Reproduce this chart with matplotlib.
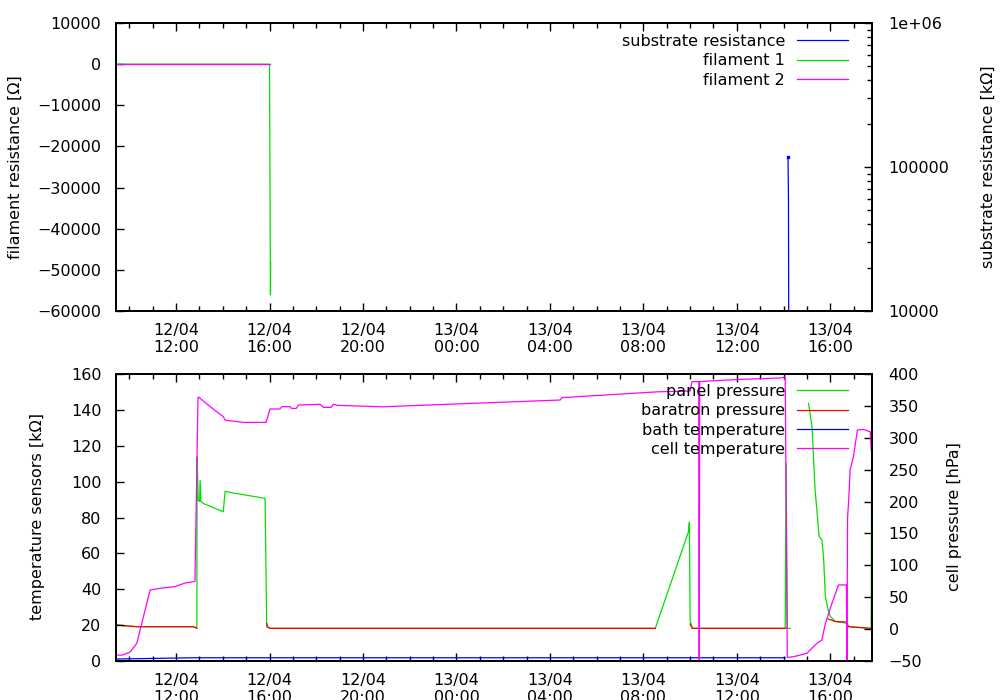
import matplotlib
matplotlib.use("Agg")
import matplotlib.pyplot as plt
from matplotlib.ticker import MultipleLocator, FixedLocator, FuncFormatter, LogLocator, NullFormatter

plt.rcParams['font.family'] = ['DejaVu Sans']
plt.rcParams['font.size'] = 11.5
plt.rcParams['axes.unicode_minus'] = True

nan = float('nan')

# time in hours since 12/04 00:00
X_MIN, X_MAX = 9.43, 41.785

# --- top panel: resistances ---
fil1_t = [9.43, 16.00, 16.04, 16.05]
fil1_v = [0, 0, -56100, -48300]
fil2_t = [9.43, 16.03]
fil2_v = [0, 0]
subst_t = [38.19, 38.21, 38.22]
subst_v = [117000, 60000, 9800]

# --- bottom panel: pressures [hPa] ---
panel_t = [9.43, 10.32, 12.74, 12.89, 12.90, 12.95, 13.01, 13.03, 13.07, 13.17, 14.02, 14.10, 14.45,
           15.81, 15.88, 16.02, 32.51, 33.93, 33.97, 34.00, 34.09, 38.07, 38.11, 38.16, 38.28, 38.29,
           39.07, 39.22, 39.28, 39.35, 39.43, 39.52, 39.64, 39.71, 39.79, 39.91, 40.00, 40.21, 40.69,
           40.78, 41.71, 41.75, 41.77]
panel_v = [6.4, 3.8, 3.8, 1.2, 270, 202, 200, 233, 200, 197, 184, 216, 213.5,
           205, 3.8, 1.2, 1.2, 152.7, 167.5, 14.5, 1.2, 1.2, 260, 1.2, 1.2, nan,
           354, 317, 270, 218, 185, 145, 140, 114, 51, 30, 20, 12, 9.4,
           4, 1.2, 1.2, 300]
baratron_t = [9.43, 10.32, 12.74, 12.89, 12.90, 15.88, 15.93, 16.02, 32.51, 32.52, 34.00, 34.09,
              38.11, 38.12, 39.91, 40.21, 40.69, 40.78, 41.71, 41.785]
baratron_v = [6.4, 3.8, 3.8, 1.5, nan, 8.9, 3, 1.2, 1.2, nan, 8, 1.2,
              1.2, nan, 16, 12, 11, 3.8, 1.2, 1.2]

# --- bottom panel: temperature sensors [kOhm] ---
bath_t = [9.43, 12.73, 38.07]
bath_v = [1.1, 1.8, 1.8]
cell_t = [9.43, 9.69, 10.03, 10.32, 10.89, 11.32, 11.96, 12.39, 12.74, 12.81, 12.94, 12.98, 13.46,
          14.02, 14.10, 14.88, 15.84, 15.90, 16.02, 16.45, 16.52, 16.88, 16.95, 17.14, 17.24, 18.16,
          18.31, 18.64, 18.73, 18.93, 20.87, 21.59, 28.44, 28.51, 32.65, 34.00, 34.08, 34.37, 34.39,
          34.41, 36.14, 37.86, 38.07, 38.16, 38.43, 39.00, 39.43, 39.64, 39.79, 40.07, 40.35, 40.69,
          40.71, 40.74, 40.78, 40.85, 40.99, 41.16, 41.42, 41.71, 41.75]
cell_v = [3.3, 3.3, 5, 9.9, 39.6, 40.5, 41.5, 43.5, 44.2, 44.5, 147, 147, 141.8,
          136.2, 134.3, 133, 133, 135, 140.5, 140.5, 141.8, 141.8, 140.8, 140.8, 142.7, 143.1,
          141.4, 141.4, 143.1, 142.5, 141.7, 142.1, 145.5, 146.8, 150.1, 150.5, 155.7, 155.8, -5,
          155.8, 157, 157.8, 158.2, 2.0, 2.4, 4.3, 9.9, 11.7, 21, 32.1, 42.4, 42.4,
          -5, 80, 87.9, 106.5, 113.9, 128.8, 129.1, 127.8, 117.6]

GREEN, RED, BLUE, MAGENTA = '#00e000', '#ff0000', '#0000ff', '#ff00ff'
LW = 0.9


def time_label(h, pos):
    h = int(round(h))
    return "%02d/04\n%02d:00" % (12 + h // 24, h % 24)


def style_x(ax):
    ax.set_xlim(X_MIN, X_MAX)
    ax.xaxis.set_major_locator(MultipleLocator(4))
    ax.xaxis.set_minor_locator(MultipleLocator(1))
    ax.xaxis.set_major_formatter(FuncFormatter(time_label))
    ax.tick_params(axis='x', which='both', direction='in', top=True, bottom=True)
    ax.tick_params(axis='x', which='major', length=6, width=1, pad=8.5)
    ax.tick_params(axis='x', which='minor', length=3.5, width=1)


def make_legend(ax, handles, labels, top_px):
    leg = ax.legend(handles, labels, loc='upper right', frameon=False, markerfirst=False,
                    bbox_to_anchor=(1 - 24 / 756, 1 - top_px / 288), borderaxespad=0, borderpad=0,
                    handlelength=3.2, handletextpad=0.75, labelspacing=0.27)
    for col in leg._legend_handle_box.get_children():
        col.align = 'right'
    return leg


fig = plt.figure(figsize=(10, 7), dpi=100)

# ---------------- top panel ----------------
ax_r = fig.add_axes([0.116, 1 - 311 / 700, 0.756, 288 / 700])
ax_f = ax_r.twinx()
for a in (ax_r, ax_f):
    for s in a.spines.values():
        s.set_linewidth(1.3)

l_sub, = ax_r.plot(subst_t, subst_v, color=BLUE, lw=LW)
ax_r.plot(subst_t[:1], subst_v[:1], 's', color=BLUE, ms=2)
ax_r.set_yscale('log')
ax_r.set_ylim(1e4, 1e6)
ax_r.yaxis.tick_right()
ax_r.yaxis.set_label_position('right')
ax_r.yaxis.set_major_locator(FixedLocator([1e4, 1e5, 1e6]))
ax_r.yaxis.set_major_formatter(FuncFormatter(lambda v, p: {1e4: '10000', 1e5: '100000', 1e6: '1e+06'}.get(v, '')))
ax_r.yaxis.set_minor_locator(LogLocator(base=10, subs=range(2, 10)))
ax_r.yaxis.set_minor_formatter(NullFormatter())
ax_r.tick_params(axis='y', which='both', direction='in', left=False, right=True, labelleft=False, labelright=True)
ax_r.tick_params(axis='y', which='major', length=6, width=1, pad=12)
ax_r.tick_params(axis='y', which='minor', length=3.5, width=1)
style_x(ax_r)

l_f1, = ax_f.plot(fil1_t, fil1_v, color=GREEN, lw=LW)
l_f2, = ax_f.plot(fil2_t, fil2_v, color=MAGENTA, lw=LW)
ax_f.set_ylim(-60000, 10000)
ax_f.yaxis.tick_left()
ax_f.yaxis.set_label_position('left')
ax_f.yaxis.set_major_locator(MultipleLocator(10000))
ax_f.tick_params(axis='y', which='both', direction='in', left=True, right=False, labelleft=True, labelright=False,
                 length=6, width=1, pad=10.5)
ax_f.set_xlim(X_MIN, X_MAX)

make_legend(ax_f, [l_sub, l_f1, l_f2], ['substrate resistance', 'filament 1', 'filament 2'], 11)

fig.text(0.015, 1 - 167 / 700, 'filament resistance [\u03a9]', rotation=90, ha='center', va='center')
fig.text(0.988, 1 - 167 / 700, 'substrate resistance [k\u03a9]', rotation=90, ha='center', va='center')

# ---------------- bottom panel ----------------
ax_p = fig.add_axes([0.116, 1 - 661 / 700, 0.756, 287 / 700])
ax_t = ax_p.twinx()
for a in (ax_p, ax_t):
    for s in a.spines.values():
        s.set_linewidth(1.3)

l_pan, = ax_p.plot(panel_t, panel_v, color=GREEN, lw=LW)
l_bar, = ax_p.plot(baratron_t, baratron_v, color=RED, lw=LW)
ax_p.set_ylim(-50, 400)
ax_p.yaxis.tick_right()
ax_p.yaxis.set_label_position('right')
ax_p.yaxis.set_major_locator(MultipleLocator(50))
ax_p.tick_params(axis='y', which='both', direction='in', left=False, right=True, labelleft=False, labelright=True,
                 length=6, width=1, pad=12)
style_x(ax_p)

l_bath, = ax_t.plot(bath_t, bath_v, color=BLUE, lw=LW)
l_cell, = ax_t.plot(cell_t, cell_v, color=MAGENTA, lw=LW)
ax_t.set_ylim(0, 160)
ax_t.yaxis.tick_left()
ax_t.yaxis.set_label_position('left')
ax_t.yaxis.set_major_locator(MultipleLocator(20))
ax_t.tick_params(axis='y', which='both', direction='in', left=True, right=False, labelleft=True, labelright=False,
                 length=6, width=1, pad=10.5)
ax_t.set_xlim(X_MIN, X_MAX)

make_legend(ax_t, [l_pan, l_bar, l_bath, l_cell],
            ['panel pressure', 'baratron pressure', 'bath temperature', 'cell temperature'], 10)

fig.text(0.038, 1 - 517 / 700, 'temperature sensors [k\u03a9]', rotation=90, ha='center', va='center')
fig.text(0.955, 1 - 517 / 700, 'cell pressure [hPa]', rotation=90, ha='center', va='center')

fig.savefig('out.png', dpi=100)
